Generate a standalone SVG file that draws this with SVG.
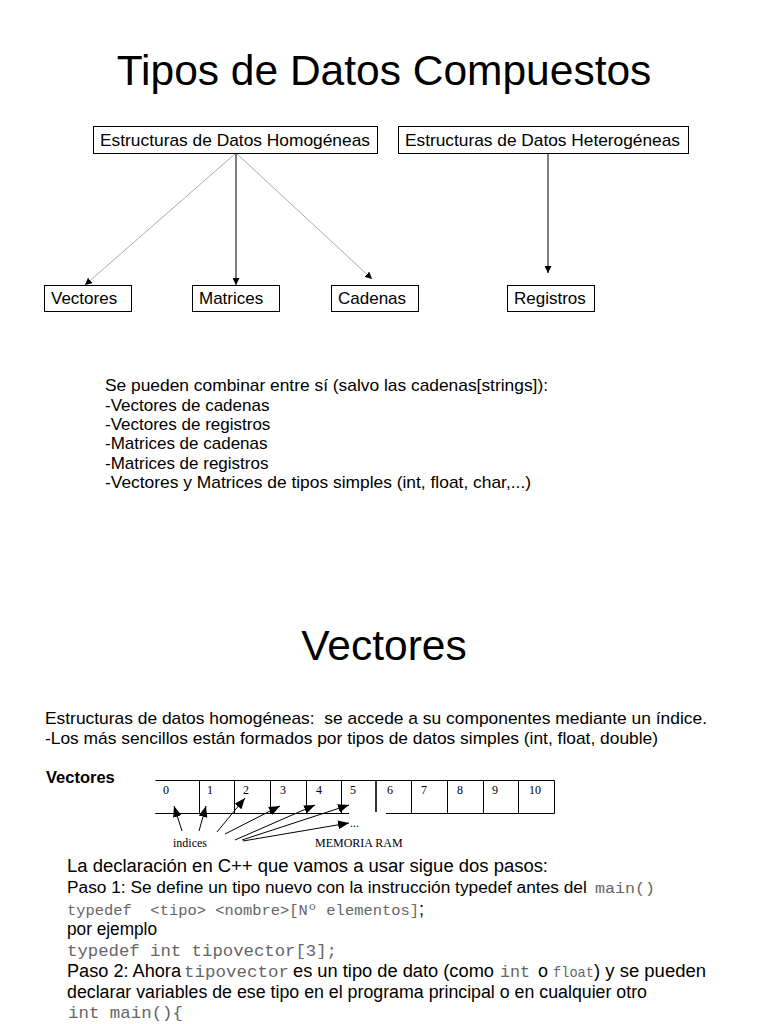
<svg xmlns="http://www.w3.org/2000/svg" width="768" height="1024" viewBox="0 0 768 1024">
<style>
.t{font-family:"Liberation Sans",Arial,sans-serif;fill:#000}
.s{font-family:"Liberation Serif","Times New Roman",serif;fill:#000;font-size:12px}
.m{font-family:"Liberation Mono","Courier New",monospace;fill:#666}
.box{fill:#fff;stroke:#000;stroke-width:1}
.blk{stroke:#000;stroke-width:1;fill:none}
.gry{stroke:#aaa;stroke-width:1;fill:none}
.ram{stroke:#000;stroke-width:1;fill:none}
</style>
<defs>
<marker id="ah" viewBox="0 0 10 10" refX="10" refY="5" markerWidth="7" markerHeight="7" orient="auto" markerUnits="userSpaceOnUse"><path d="M0,0 L10,5 L0,10 z" fill="#000"/></marker>
<marker id="ah2" viewBox="0 0 10 10" refX="10" refY="5" markerWidth="11" markerHeight="11" orient="auto" markerUnits="userSpaceOnUse"><path d="M0,1 L10,5 L0,9 z" fill="#000"/></marker>
</defs>
<rect width="768" height="1024" fill="#fff"/>
<text class="t" x="384" y="85" font-size="42.5" text-anchor="middle">Tipos de Datos Compuestos</text>

<g id="connectors">
<line class="gry" x1="236" y1="153" x2="85" y2="285" marker-end="url(#ah)"/>
<line class="blk" x1="236" y1="153" x2="236" y2="285" marker-end="url(#ah)"/>
<line class="gry" x1="236" y1="153" x2="372" y2="279" marker-end="url(#ah)"/>
<line class="blk" x1="548" y1="153" x2="548" y2="273" marker-end="url(#ah)"/>
</g>

<g id="homogeneas"><rect class="box" x="93.5" y="126.5" width="284" height="27"/><text class="t" x="100" y="146" font-size="17" textLength="270" lengthAdjust="spacingAndGlyphs">Estructuras de Datos Homogéneas</text></g>
<g id="heterogeneas"><rect class="box" x="398.5" y="126.5" width="290" height="27"/><text class="t" x="405" y="146" font-size="17" textLength="275" lengthAdjust="spacingAndGlyphs">Estructuras de Datos Heterogéneas</text></g>
<g id="vectores"><rect class="box" x="44.5" y="285.5" width="87" height="26"/><text class="t" x="51" y="304" font-size="17">Vectores</text></g>
<g id="matrices"><rect class="box" x="192.5" y="285.5" width="87" height="26"/><text class="t" x="199" y="304" font-size="17">Matrices</text></g>
<g id="cadenas"><rect class="box" x="331.5" y="285.5" width="87" height="26"/><text class="t" x="338" y="304" font-size="17">Cadenas</text></g>
<g id="registros"><rect class="box" x="507.5" y="285.5" width="87" height="26"/><text class="t" x="514" y="304" font-size="17">Registros</text></g>

<g class="t" font-size="17">
<text x="105" y="391" textLength="443" lengthAdjust="spacingAndGlyphs">Se pueden combinar entre sí (salvo las cadenas[strings]):</text>
<text x="105" y="411">-Vectores de cadenas</text>
<text x="105" y="430">-Vectores de registros</text>
<text x="105" y="449">-Matrices de cadenas</text>
<text x="105" y="469">-Matrices de registros</text>
<text x="105" y="488" textLength="426" lengthAdjust="spacingAndGlyphs">-Vectores y Matrices de tipos simples (int, float, char,...)</text>
</g>

<text class="t" x="384" y="660" font-size="42.5" text-anchor="middle">Vectores</text>

<g class="t" font-size="17">
<text x="45" y="724" xml:space="preserve" textLength="662" lengthAdjust="spacingAndGlyphs">Estructuras de datos homogéneas:  se accede a su componentes mediante un índice.</text>
<text x="45" y="744" textLength="613" lengthAdjust="spacingAndGlyphs">-Los más sencillos están formados por tipos de datos simples (int, float, double)</text>
</g>
<text class="t" x="46" y="783" font-size="16.5" font-weight="bold">Vectores</text>

<g id="ram">
<path class="ram" d="M155.5,780.5 H554.5 V813.5 H386 M349,813.5 H155.5 Z"/>
<path class="ram" d="M199.5,780 V813 M234.5,780 V813 M270.5,780 V813 M306.5,780 V813 M341.5,780 V813 M411.5,780 V813 M447.5,780 V813 M483.5,780 V813 M518.5,780 V813"/>
<line x1="376" y1="780" x2="376" y2="812" stroke="#000" stroke-width="1.6"/>
<text class="s" x="163" y="794">0</text>
<text class="s" x="207" y="794">1</text>
<text class="s" x="243" y="794">2</text>
<text class="s" x="280" y="794">3</text>
<text class="s" x="316" y="794">4</text>
<text class="s" x="350" y="794">5</text>
<text class="s" x="387" y="794">6</text>
<text class="s" x="421" y="794">7</text>
<text class="s" x="457" y="794">8</text>
<text class="s" x="492" y="794">9</text>
<text class="s" x="529" y="794">10</text>
<line class="blk" x1="182" y1="831" x2="174" y2="806" marker-end="url(#ah2)"/>
<line class="blk" x1="199" y1="831" x2="206" y2="806" marker-end="url(#ah2)"/>
<line class="blk" x1="217" y1="832" x2="245" y2="798" marker-end="url(#ah2)"/>
<line class="blk" x1="225" y1="834" x2="280" y2="806" marker-end="url(#ah2)"/>
<line class="blk" x1="235" y1="840" x2="315" y2="805" marker-end="url(#ah2)"/>
<line class="blk" x1="242" y1="840" x2="349" y2="805" marker-end="url(#ah2)"/>
<line class="blk" x1="243" y1="841" x2="349" y2="823" marker-end="url(#ah2)"/>
<text class="s" x="350" y="827" font-size="10">...</text>
<text class="s" x="173" y="847">indices</text>
<text class="s" x="315" y="847">MEMORIA RAM</text>
</g>

<g class="t" font-size="18">
<text x="67" y="872" textLength="481" lengthAdjust="spacingAndGlyphs">La declaración en C++ que vamos a usar sigue dos pasos:</text>
<text x="67" y="893"><tspan font-size="17.3">Paso 1: Se define un tipo nuevo con la instrucción typedef antes del</tspan><tspan class="m" x="595" font-size="14" textLength="60" lengthAdjust="spacingAndGlyphs">main()</tspan></text>
<text x="67" y="915" xml:space="preserve"><tspan class="m" font-size="14" textLength="352" lengthAdjust="spacingAndGlyphs">typedef  &lt;tipo&gt; &lt;nombre&gt;[Nº elementos]</tspan><tspan x="419">;</tspan></text>
<text x="67" y="935" textLength="90" lengthAdjust="spacingAndGlyphs">por ejemplo</text>
<text class="m" x="67" y="956" font-size="17" textLength="270" lengthAdjust="spacingAndGlyphs">typedef int tipovector[3];</text>
<text x="67" y="977"><tspan textLength="114" lengthAdjust="spacingAndGlyphs">Paso 2: Ahora</tspan><tspan class="m" x="184" font-size="17" textLength="105" lengthAdjust="spacingAndGlyphs">tipovector</tspan><tspan x="293" textLength="201" lengthAdjust="spacingAndGlyphs">es un tipo de dato (como</tspan><tspan class="m" x="500" font-size="17" textLength="30" lengthAdjust="spacingAndGlyphs">int</tspan><tspan x="538">o</tspan><tspan class="m" x="553" font-size="15" textLength="41" lengthAdjust="spacingAndGlyphs">float</tspan><tspan x="594" textLength="112" lengthAdjust="spacingAndGlyphs">) y se pueden</tspan></text>
<text x="67" y="998" textLength="580" lengthAdjust="spacingAndGlyphs">declarar variables de ese tipo en el programa principal o en cualquier otro</text>
<text class="m" x="68" y="1018" font-size="17" textLength="115" lengthAdjust="spacingAndGlyphs">int main(){</text>
</g>
</svg>
